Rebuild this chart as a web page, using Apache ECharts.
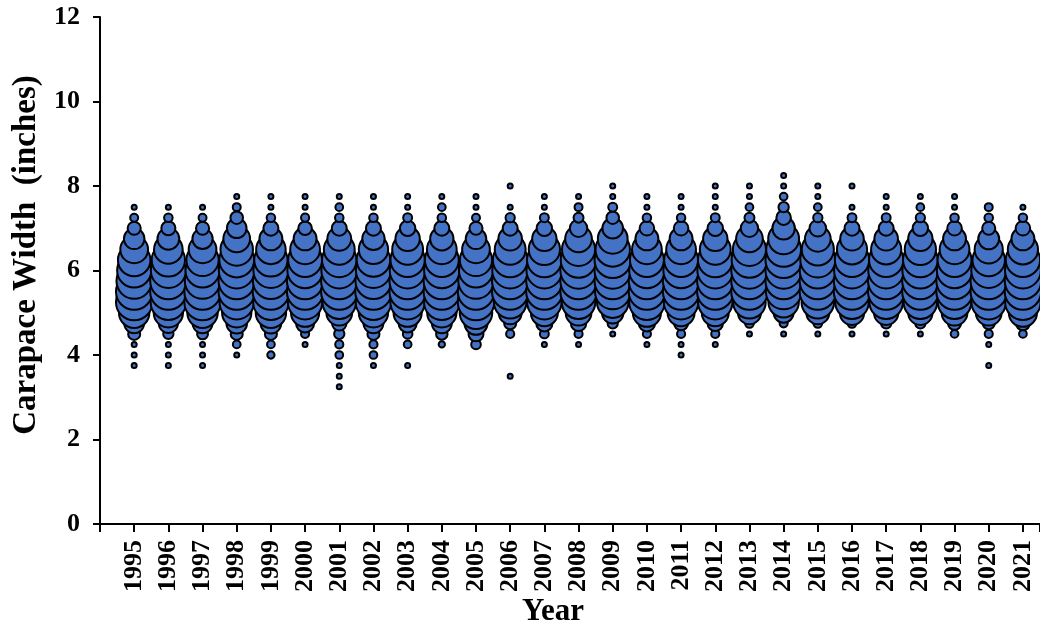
<!DOCTYPE html>
<html>
<head>
<meta charset="utf-8">
<script src="https://cdn.jsdelivr.net/npm/echarts@6/dist/echarts.min.js"></script>
<style>html,body{margin:0;padding:0;background:#fff}#c{width:1040px;height:632px}</style>
</head>
<body>
<div id="c"></div>
<script>
const years = [1995,1996,1997,1998,1999,2000,2001,2002,2003,2004,2005,2006,2007,2008,2009,2010,2011,2012,2013,2014,2015,2016,2017,2018,2019,2020,2021];
const widthBins = [3.25,3.5,3.75,4.0,4.25,4.5,4.75,5.0,5.25,5.5,5.75,6.0,6.25,6.5,6.75,7.0,7.25,7.5,7.75,8.0,8.25];
const yTicks = [0,2,4,6,8,10,12];

// estimated crab counts per carapace-width bin for each year
const c1995 = [0,0,10,10,10,110,300,700,1000,1000,950,880,800,580,320,130,48,10,0,0,0];
const c1996 = [0,0,10,10,10,80,280,650,950,1000,1000,930,840,620,360,150,55,10,0,0,0];
const c1997 = [0,0,10,10,10,90,300,700,1000,1000,950,880,790,580,310,130,48,10,0,0,0];
const c1998 = [0,0,0,10,45,110,320,650,900,1000,1000,970,920,800,540,290,120,48,10,0,0];
const c1999 = [0,0,0,40,45,110,320,700,950,1000,980,930,840,660,400,170,55,10,10,0,0];
const c2000 = [0,0,0,0,10,50,250,600,900,1000,1000,950,870,670,400,140,50,10,10,0,0];
const c2001 = [10,10,10,45,50,80,160,500,850,1000,1000,970,900,720,430,170,55,45,10,0,0];
const c2002 = [0,0,10,45,50,110,300,650,950,1000,980,930,850,650,380,170,55,10,10,0,0];
const c2003 = [0,0,10,0,45,70,250,600,900,1000,1000,970,890,720,450,180,60,10,10,0,0];
const c2004 = [0,0,0,0,30,100,300,650,950,1000,1000,950,870,670,410,170,55,45,10,0,0];
const c2005 = [0,0,0,0,70,170,400,800,1000,1000,950,880,790,580,320,130,48,10,10,0,0];
const c2006 = [0,10,0,0,0,50,110,400,800,1000,1000,970,910,720,420,170,65,10,0,10,0];
const c2007 = [0,0,0,0,10,60,200,550,900,1000,1000,970,910,740,450,180,60,10,10,0,0];
const c2008 = [0,0,0,0,10,50,180,500,850,1000,1000,1000,960,830,540,230,75,48,10,0,0];
const c2009 = [0,0,0,0,0,10,80,350,750,950,1000,1000,1000,900,670,320,120,60,10,10,0];
const c2010 = [0,0,0,0,10,50,200,600,950,1000,1000,950,870,670,400,160,55,10,10,0,0];
const c2011 = [0,0,0,10,10,50,150,550,900,1000,1000,950,870,670,400,160,55,10,10,0,0];
const c2012 = [0,0,0,0,10,50,180,550,900,1000,1000,970,910,720,450,180,60,10,10,10,0];
const c2013 = [0,0,0,0,0,10,60,400,800,1000,1000,1000,960,830,540,230,75,45,10,10,0];
const c2014 = [0,0,0,0,0,10,50,300,700,950,1000,1000,1000,920,720,380,160,80,45,10,10];
const c2015 = [0,0,0,0,0,10,60,400,800,1000,1000,990,930,780,500,210,65,45,10,10,0];
const c2016 = [0,0,0,0,0,10,60,450,850,1000,1000,970,890,690,420,170,60,10,0,10,0];
const c2017 = [0,0,0,0,0,10,80,450,850,1000,1000,970,890,690,420,170,60,10,10,0,0];
const c2018 = [0,0,0,0,0,10,80,450,850,1000,1000,980,910,740,450,180,65,45,10,0,0];
const c2019 = [0,0,0,0,0,45,130,500,850,1000,1000,950,870,670,400,160,55,10,10,0,0];
const c2020 = [0,0,10,0,10,50,110,500,900,1000,1000,920,800,600,330,130,55,48,0,0,0];
const c2021 = [0,0,0,0,0,45,150,600,950,1000,1000,970,890,690,400,160,55,10,0,0,0];

const countsByYear = [c1995,c1996,c1997,c1998,c1999,c2000,c2001,c2002,c2003,c2004,c2005,c2006,c2007,c2008,c2009,c2010,c2011,c2012,c2013,c2014,c2015,c2016,c2017,c2018,c2019,c2020,c2021];

const points = [];
years.forEach((yr, i) => {
  countsByYear[i].forEach((n, j) => {
    if (n > 0) points.push([yr, widthBins[j], n]);
  });
});

const FONT = '"Liberation Serif","Times New Roman",serif';
const chart = echarts.init(document.getElementById('c'), null, {renderer: 'canvas'});
chart.setOption({
  animation: false,
  backgroundColor: '#fff',
  grid: {left: 100, right: 0, top: 17, bottom: 108, containLabel: false},
  xAxis: {
    type: 'value', min: 1994, max: 2021.5, interval: 1,
    splitLine: {show: false},
    axisLine: {show: true, onZero: false, lineStyle: {color: '#000', width: 2}},
    axisTick: {show: true, inside: false, length: 8, lineStyle: {color: '#000', width: 2}},
    axisLabel: {
      rotate: 90, margin: 16, color: '#000', fontFamily: FONT, fontWeight: 'bold', fontSize: 26,
      formatter: v => (v >= 1995 && v <= 2021 && Number.isInteger(v)) ? String(v) : ''
    }
  },
  yAxis: {
    type: 'value', min: 0, max: 12, interval: 2,
    splitLine: {show: false},
    axisLine: {show: true, lineStyle: {color: '#000', width: 2}},
    axisTick: {show: true, inside: false, length: 7, lineStyle: {color: '#000', width: 2}},
    axisLabel: {
      margin: 20, color: '#000', fontFamily: FONT, fontWeight: 'bold', fontSize: 26,
      formatter: v => yTicks.includes(v) ? String(v) : ''
    }
  },
  graphic: [
    {type: 'text', x: 26, y: 255, rotation: Math.PI / 2,
     style: {text: 'Carapace Width  (inches)', fill: '#000', font: 'bold 33px ' + FONT, textAlign: 'center', textVerticalAlign: 'middle'}},
    {type: 'text', x: 553, y: 612,
     style: {text: 'Year', fill: '#000', font: 'bold 31px ' + FONT, textAlign: 'center', textVerticalAlign: 'middle'}}
  ],
  series: [{
    type: 'scatter',
    data: points,
    clip: false,
    symbol: 'circle',
    symbolSize: d => Math.max(5, 1.15 * Math.sqrt(d[2])),
    itemStyle: {color: '#4472C4', borderColor: '#000', borderWidth: 2, opacity: 1}
  }]
});
</script>
</body>
</html>
